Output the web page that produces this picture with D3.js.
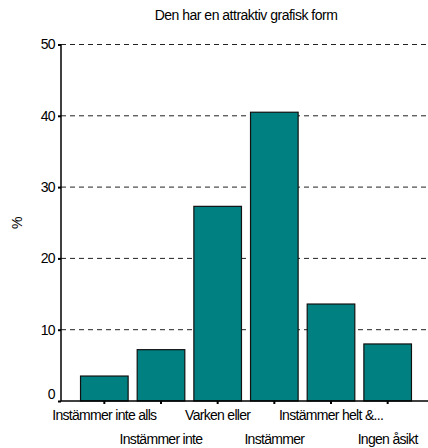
<!DOCTYPE html>
<html>
<head>
<meta charset="utf-8">
<script src="https://cdn.jsdelivr.net/npm/d3@7"></script>
<style>
  body { margin: 0; background: #fff; }
  svg text { font-family: "Liberation Sans", Arial, sans-serif; fill: #000; }
</style>
</head>
<body>
<svg id="chart" width="428" height="448"></svg>
<script>
var title = "Den har en attraktiv grafisk form";
var categories = ["Instämmer inte alls", "Instämmer inte", "Varken eller", "Instämmer", "Instämmer helt &...", "Ingen åsikt"];
var values = [3.5, 7.2, 27.3, 40.5, 13.6, 8.0];
var yTicks = [0, 10, 20, 30, 40, 50];
var yLabel = "%";

var svg = d3.select("#chart");
var plotLeft = 61, plotRight = 428, plotTop = 44.5, plotBottom = 401;

var x = d3.scaleBand().domain(categories).range([76, 416]).paddingInner(0.16).paddingOuter(0.08),
    y = d3.scaleLinear().domain([0, 50]).range([plotBottom, plotTop]);

svg.append("text")
  .attr("x", 246).attr("y", 20)
  .attr("text-anchor", "middle")
  .style("font-size", "14px")
  .style("letter-spacing", "-0.5px")
  .text(title);

// dashed gridlines behind the bars
svg.append("g")
  .selectAll("line")
  .data(yTicks.filter(d => d > 0))
  .enter()
  .append("line")
    .attr("x1", plotLeft).attr("x2", plotRight)
    .attr("y1", d => y(d)).attr("y2", d => y(d))
    .style("stroke", "#222")
    .style("stroke-dasharray", "5,4");

svg.append("g")
  .selectAll("rect")
  .data(values)
  .enter()
  .append("rect")
    .attr("x", (d, i) => x(categories[i]))
    .attr("y", d => y(d))
    .attr("width", x.bandwidth())
    .attr("height", d => plotBottom - y(d))
    .style("fill", "#008080")
    .style("stroke", "#111")
    .style("stroke-width", 1.2);

// y axis
var yAxis = d3.axisLeft(y).tickValues(yTicks).tickSize(3).tickPadding(3);
var gy = svg.append("g").attr("transform", "translate(" + plotLeft + ",0)").call(yAxis);
gy.select(".domain").attr("d", "M0," + plotTop + "V" + plotBottom).style("stroke", "#000").style("stroke-width", 1.5);
gy.selectAll(".tick line").style("stroke", "#000").style("stroke-width", 2);
gy.selectAll(".tick text")
  .attr("dy", d => d === 0 ? "-0.15em" : "0.32em")
  .style("font-size", "14px")
  .style("letter-spacing", "-0.6px")
  .style("font-family", "Liberation Sans, Arial, sans-serif")
  .style("fill", "#000");

// x axis
var xAxis = d3.axisBottom(x).tickSize(3).tickPadding(0).tickFormat("");
var gx = svg.append("g").attr("transform", "translate(0," + plotBottom + ")").call(xAxis);
gx.select(".domain").attr("d", "M" + plotLeft + ",0H" + plotRight).style("stroke", "#000").style("stroke-width", 1.5);
gx.selectAll(".tick line").style("stroke", "#000").style("stroke-width", 2);

svg.append("g")
  .selectAll("text")
  .data(categories)
  .enter()
  .append("text")
    .attr("x", d => x(d) + x.bandwidth() / 2)
    .attr("y", (d, i) => plotBottom + (i % 2 === 0 ? 19 : 43))
    .attr("text-anchor", "middle")
    .style("font-size", "14px")
    .style("letter-spacing", "-0.7px")
    .text(d => d);

svg.append("text")
  .attr("transform", "translate(22," + ((plotTop + plotBottom) / 2) + ") rotate(-90)")
  .attr("text-anchor", "middle")
  .style("font-size", "14px")
  .text(yLabel);
</script>
</body>
</html>
